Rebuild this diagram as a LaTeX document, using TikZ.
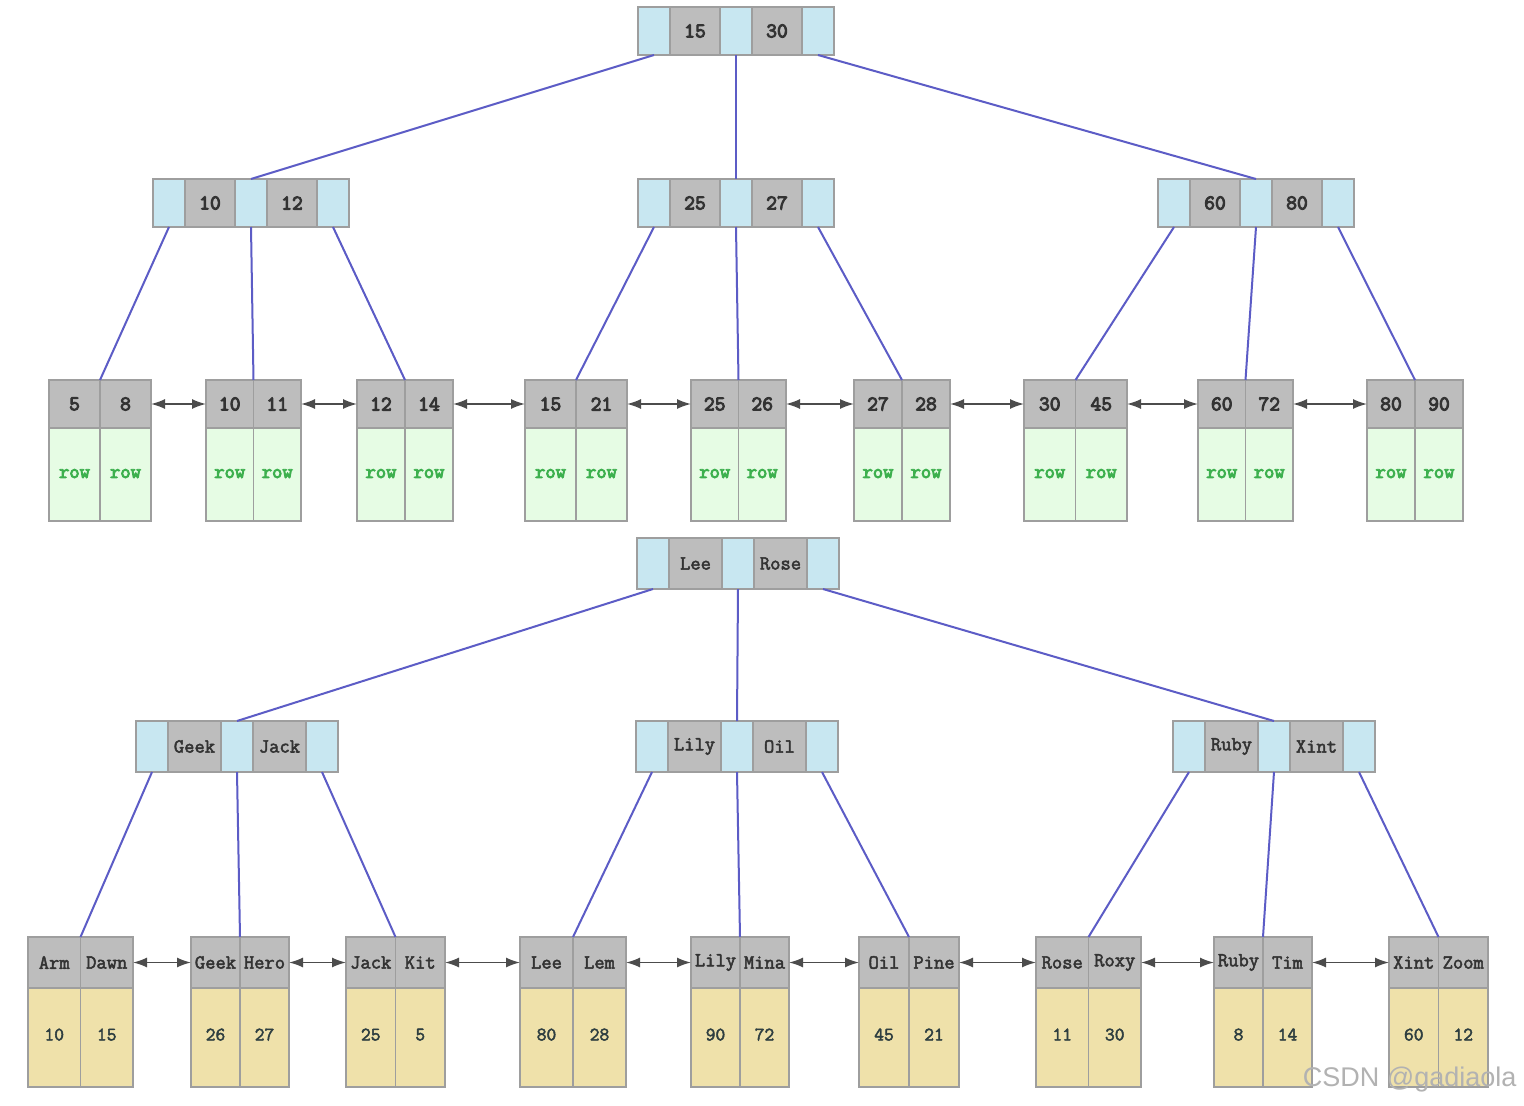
\documentclass[tikz,border=0pt]{standalone}
\usepackage{fontspec}
\setsansfont{Liberation Sans}
\newfontfamily\courb[FakeBold=4.5]{Latin Modern Mono}
\newfontfamily\courm[FakeBold=2.5]{Latin Modern Mono}
\usetikzlibrary{arrows.meta}
\definecolor{pblue}{HTML}{C8E7F1}
\definecolor{kgray}{HTML}{BDBDBD}
\definecolor{rgreen}{HTML}{E6FCE4}
\definecolor{dtan}{HTML}{EFE1AA}
\definecolor{bord}{HTML}{9E9E9E}
\definecolor{lnk}{HTML}{5C5CC6}
\definecolor{rowtxt}{HTML}{3DB04E}
\definecolor{numtxt}{HTML}{2E3E40}
\tikzset{
  cell/.style={draw=bord, line width=1.3pt, inner sep=0pt, outer sep=0pt, anchor=north west},
  bcell/.style={cell, fill=pblue},
  gcell/.style={cell, fill=kgray, text=black!80, font=\courm\fontsize{20}{20}\selectfont},
  gbold/.style={gcell, font=\courb\fontsize{21}{21}\selectfont},
  rowcell/.style={cell, fill=rgreen, text=rowtxt, font=\courb\fontsize{20}{20}\selectfont},
  tancell/.style={cell, fill=dtan, text=numtxt, font=\courm\fontsize{19}{19}\selectfont},
  tlink/.style={draw=lnk, line width=2pt},
  llink/.style={draw=black!70, line width=1.6pt, {Latex[length=14pt,width=10pt]}-{Latex[length=14pt,width=10pt]}},
}
% internal node: name, x, y, key1, key2, blue width, gray width, height, key style
\newcommand\InNode[9]{%
  \node[bcell, minimum width=#6, minimum height=#8] (#1p1) at (#2,#3) {};
  \node[#9, minimum width=#7, minimum height=#8] (#1k1) at (#1p1.north east) {#4};
  \node[bcell, minimum width=#6, minimum height=#8] (#1p2) at (#1k1.north east) {};
  \node[#9, minimum width=#7, minimum height=#8] (#1k2) at (#1p2.north east) {#5};
  \node[bcell, minimum width=#6, minimum height=#8] (#1p3) at (#1k2.north east) {};
}
% leaf: name, x, y, cell width, k1, k2, d1, d2
\newcommand\LeafT[8]{%
  \node[gbold, minimum width=#4, minimum height=48] (#1k1) at (#2,#3) {#5};
  \node[gbold, minimum width=#4, minimum height=48] (#1k2) at (#1k1.north east) {#6};
  \node[rowcell, minimum width=#4, minimum height=93] (#1d1) at (#1k1.south west) {\raisebox{2pt}{#7}};
  \node[rowcell, minimum width=#4, minimum height=93] (#1d2) at (#1k2.south west) {\raisebox{2pt}{#8}};
}
\newcommand\LeafB[8]{%
  \node[gcell, minimum width=#4, minimum height=51] (#1k1) at (#2,#3) {#5};
  \node[gcell, minimum width=#4, minimum height=51] (#1k2) at (#1k1.north east) {#6};
  \node[tancell, minimum width=#4, minimum height=99] (#1d1) at (#1k1.south west) {\raisebox{6pt}{#7}};
  \node[tancell, minimum width=#4, minimum height=99] (#1d2) at (#1k2.south west) {\raisebox{6pt}{#8}};
}
\begin{document}
\begin{tikzpicture}[x=1pt,y=-1pt]
\useasboundingbox[fill=white] (0,0) rectangle (1524,1106);
% ---------------- top tree ----------------
\InNode{R}{638}{7}{15}{30}{32}{50}{48}{gbold}
\InNode{A}{153}{179}{10}{12}{32}{50}{48}{gbold}
\InNode{B}{638}{179}{25}{27}{32}{50}{48}{gbold}
\InNode{C}{1158}{179}{60}{80}{32}{50}{48}{gbold}
\LeafT{ta}{49}{380}{51}{5}{8}{row}{row}
\LeafT{tb}{206}{380}{47.5}{10}{11}{row}{row}
\LeafT{tc}{357}{380}{48}{12}{14}{row}{row}
\LeafT{td}{525}{380}{51}{15}{21}{row}{row}
\LeafT{te}{691}{380}{47.5}{25}{26}{row}{row}
\LeafT{tf}{854}{380}{48}{27}{28}{row}{row}
\LeafT{tg}{1024}{380}{51.5}{30}{45}{row}{row}
\LeafT{th}{1198}{380}{47.5}{60}{72}{row}{row}
\LeafT{ti}{1367}{380}{48}{80}{90}{row}{row}
\draw[tlink] (Rp1.south) -- (Ap2.north);
\draw[tlink] (Rp2.south) -- (Bp2.north);
\draw[tlink] (Rp3.south) -- (Cp2.north);
\draw[tlink] (Ap1.south) -- (tak1.north east);
\draw[tlink] (Ap2.south) -- (tbk1.north east);
\draw[tlink] (Ap3.south) -- (tck1.north east);
\draw[tlink] (Bp1.south) -- (tdk1.north east);
\draw[tlink] (Bp2.south) -- (tek1.north east);
\draw[tlink] (Bp3.south) -- (tfk1.north east);
\draw[tlink] (Cp1.south) -- (tgk1.north east);
\draw[tlink] (Cp2.south) -- (thk1.north east);
\draw[tlink] (Cp3.south) -- (tik1.north east);
\foreach \a/\b in {ta/tb,tb/tc,tc/td,td/te,te/tf,tf/tg,tg/th,th/ti}
  \draw[llink] (\a k2.east) -- (\b k1.west);
% ---------------- bottom tree ----------------
\InNode{S}{637}{538}{Lee}{Rose}{32}{53}{51}{gcell}
\InNode{D}{136}{721}{Geek}{Jack}{32}{53}{51}{gcell}
\InNode{E}{636}{721}{Lily}{Oil}{32}{53}{51}{gcell}
\InNode{F}{1173}{721}{Ruby}{Xint}{32}{53}{51}{gcell}
\LeafB{ba}{28}{937}{52.5}{Arm}{Dawn}{10}{15}
\LeafB{bb}{191}{937}{49}{Geek}{Hero}{26}{27}
\LeafB{bc}{346}{937}{49.5}{Jack}{Kit}{25}{5}
\LeafB{bd}{520}{937}{53}{Lee}{Lem}{80}{28}
\LeafB{be}{691}{937}{49}{Lily}{Mina}{90}{72}
\LeafB{bf}{859}{937}{50}{Oil}{Pine}{45}{21}
\LeafB{bg}{1036}{937}{52.5}{Rose}{Roxy}{11}{30}
\LeafB{bh}{1214}{937}{49}{Ruby}{Tim}{8}{14}
\LeafB{bi}{1389}{937}{49.5}{Xint}{Zoom}{60}{12}
\draw[tlink] (Sp1.south) -- (Dp2.north);
\draw[tlink] (Sp2.south) -- (Ep2.north);
\draw[tlink] (Sp3.south) -- (Fp2.north);
\draw[tlink] (Dp1.south) -- (bak1.north east);
\draw[tlink] (Dp2.south) -- (bbk1.north east);
\draw[tlink] (Dp3.south) -- (bck1.north east);
\draw[tlink] (Ep1.south) -- (bdk1.north east);
\draw[tlink] (Ep2.south) -- (bek1.north east);
\draw[tlink] (Ep3.south) -- (bfk1.north east);
\draw[tlink] (Fp1.south) -- (bgk1.north east);
\draw[tlink] (Fp2.south) -- (bhk1.north east);
\draw[tlink] (Fp3.south) -- (bik1.north east);
\foreach \a/\b in {ba/bb,bb/bc,bc/bd,bd/be,be/bf,bf/bg,bg/bh,bh/bi}
  \draw[llink] (\a k2.east) -- (\b k1.west);
% watermark
\node[font=\sffamily\fontsize{27}{27}\selectfont, text=black!30, anchor=east] (wm) at (1520,1080) {CSDN @gadiaola};
\end{tikzpicture}
\end{document}
